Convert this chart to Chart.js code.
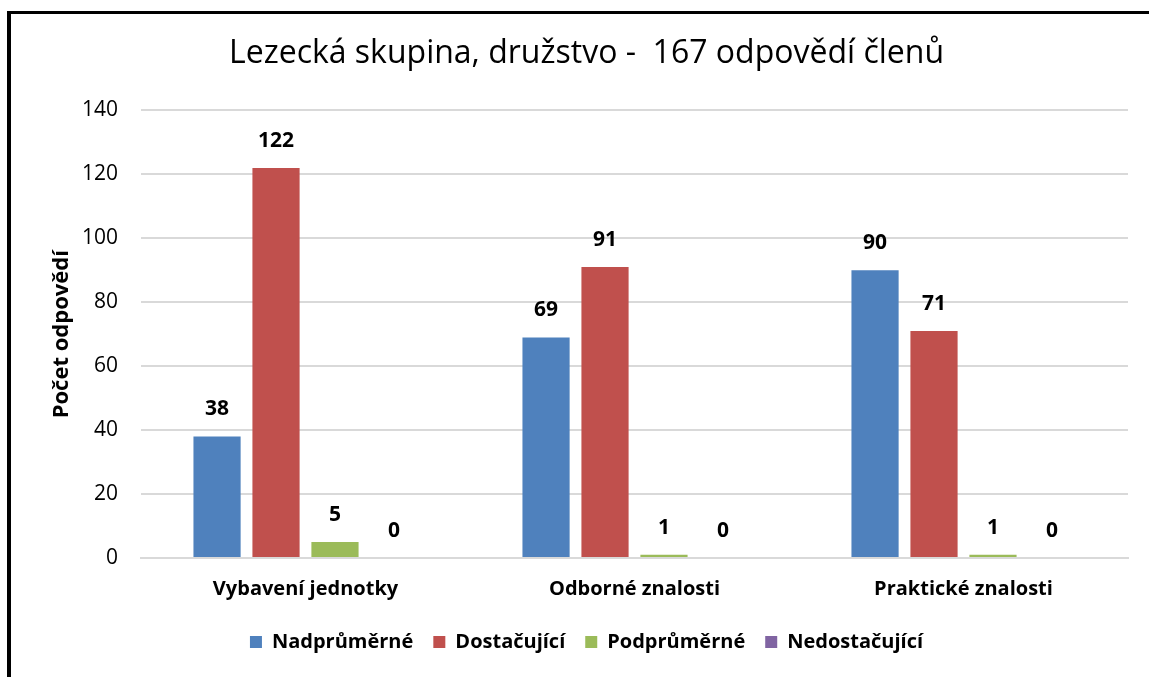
<!DOCTYPE html>
<html>
<head>
<meta charset="utf-8">
<script src="https://cdn.jsdelivr.net/npm/chart.js@4"></script>
<style>
  html, body { margin: 0; padding: 0; background: #fff; }
  #wrap { position: relative; width: 1149px; height: 677px; }
  #frame { position: absolute; left: 7px; top: 11px; right: 0; bottom: 0; border-left: 4px solid #000; border-top: 3px solid #000; pointer-events: none; }
</style>
</head>
<body>
<div id="wrap">
  <canvas id="chart" width="1149" height="677"></canvas>
  <div id="frame"></div>
</div>
<script>
const categories = ['Vybavení jednotky', 'Odborné znalosti', 'Praktické znalosti'];
const seriesNames = ['Nadprůměrné', 'Dostačující', 'Podprůměrné', 'Nedostačující'];
const nadprumerne = [38, 69, 90];
const dostacujici = [122, 91, 71];
const podprumerne = [5, 1, 1];
const nedostacujici = [0, 0, 0];
const colors = ['#4F81BD', '#C0504D', '#9BBB59', '#8064A2'];

const fontFamily = '"Open Sans", Lato, sans-serif';

// values above each bar
const valueLabels = {
    id: 'valueLabels',
    afterDatasetsDraw(chart) {
        const ctx = chart.ctx;
        ctx.save();
        ctx.font = 'bold 21px ' + fontFamily;
        ctx.fillStyle = '#000';
        ctx.textAlign = 'center';
        ctx.textBaseline = 'middle';
        chart.data.datasets.forEach((ds, i) => {
            chart.getDatasetMeta(i).data.forEach((bar, j) => {
                ctx.fillText(ds.data[j], bar.x, bar.y - 27);
            });
        });
        ctx.restore();
    }
};

const allSeries = [nadprumerne, dostacujici, podprumerne, nedostacujici];

new Chart(document.getElementById('chart'), {
    type: 'bar',
    data: {
        labels: categories,
        datasets: allSeries.map((vals, i) => ({
            label: seriesNames[i],
            data: vals,
            backgroundColor: colors[i],
            borderWidth: 0,
            categoryPercentage: 0.717,
            barPercentage: 0.8
        }))
    },
    options: {
        responsive: false,
        animation: false,
        layout: { autoPadding: false, padding: { left: 45, right: 21, top: 31, bottom: 15 } },
        scales: {
            x: {
                grid: { display: false },
                border: { color: '#d9d9d9', width: 2 },
                ticks: { color: '#000', font: { family: fontFamily, size: 20, weight: 'bold' }, padding: 11 }
            },
            y: {
                min: 0,
                max: 140,
                afterFit: (scale) => { scale.width = 96; },
                ticks: { stepSize: 20, color: '#000', font: { family: fontFamily, size: 21 }, padding: 23 },
                grid: { color: '#d9d9d9', lineWidth: 2, drawTicks: false },
                border: { display: false },
                title: {
                    display: true,
                    text: 'Počet odpovědí',
                    color: '#000',
                    font: { family: fontFamily, size: 22, weight: 'bold' },
                    padding: { top: 4, bottom: 4 }
                }
            }
        },
        plugins: {
            title: {
                display: true,
                text: 'Lezecká skupina, družstvo -  167 odpovědí členů',
                color: '#000',
                font: { family: fontFamily, size: 32, weight: 'normal' },
                padding: { top: 4, bottom: 37 }
            },
            legend: {
                position: 'bottom',
                labels: {
                    color: '#000',
                    boxWidth: 12,
                    boxHeight: 12,
                    padding: 20,
                    font: { family: fontFamily, size: 20, weight: 'bold' }
                }
            },
            tooltip: { enabled: false }
        }
    },
    plugins: [valueLabels]
});
</script>
</body>
</html>
